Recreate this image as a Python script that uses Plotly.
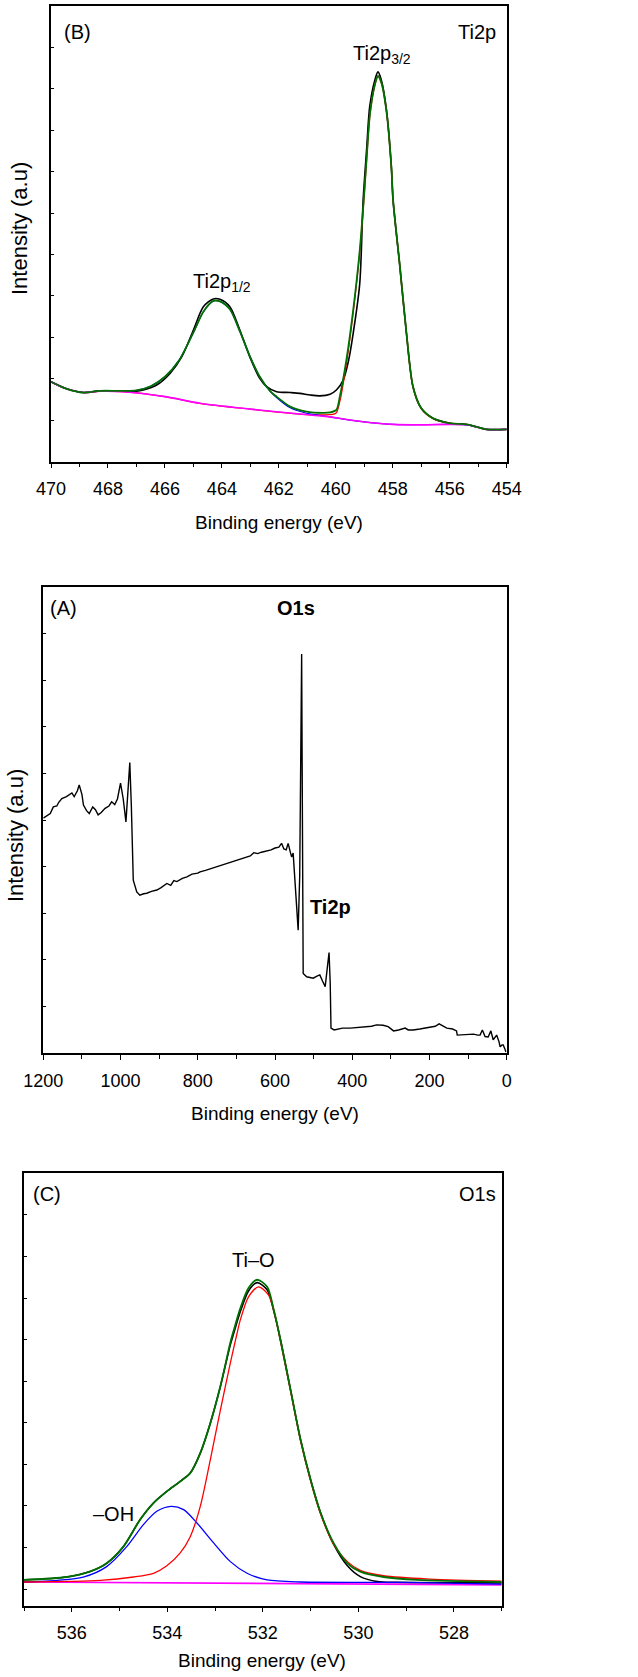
import plotly.graph_objects as go

W, H = 638, 1677

# ---------------- Panel B: Ti2p high-resolution ----------------
b_data_x = [470.0, 469.45, 468.87, 468.28, 467.58, 467.0, 466.76, 466.29, 465.82, 465.41, 465.0,
            464.65, 464.3, 464.07, 463.72, 463.37, 463.02, 462.67, 462.43, 462.08, 461.6, 461.26,
            460.9, 460.56, 460.2, 459.98, 459.74, 459.55, 459.39, 459.16, 459.04, 458.92, 458.81,
            458.63, 458.52, 458.4, 458.22, 458.05, 457.99, 457.75, 457.52, 457.29, 457.0, 456.59,
            456.0, 455.41, 455.06, 454.71, 454.0]
b_data_y = [1.93, 1.76, 1.67, 1.71, 1.71, 1.70, 1.73, 1.85, 2.13, 2.53, 3.18,
            3.74, 3.93, 3.92, 3.74, 3.18, 2.53, 2.01, 1.81, 1.69, 1.67, 1.65,
            1.61, 1.59, 1.63, 1.73, 1.97, 2.45, 3.10, 4.30, 6.32, 7.52, 8.57,
            9.21, 9.41, 9.21, 8.49, 7.12, 6.32, 4.71, 3.10, 1.81, 1.29, 1.05,
            0.93, 0.90, 0.84, 0.78, 0.78]

b_fit_x = [470.0, 469.45, 468.87, 468.28, 467.58, 467.0, 466.5, 466.0, 465.5, 465.0, 464.65,
           464.3, 464.07, 463.72, 463.37, 463.02, 462.67, 462.3, 462.08, 461.6, 461.03, 460.45,
           460.2, 459.98, 459.86, 459.63, 459.39, 459.16, 459.0, 458.9, 458.8, 458.63, 458.52,
           458.4, 458.22, 458.05, 457.99, 457.75, 457.52, 457.29, 457.0, 456.59, 456.0, 455.41,
           455.06, 454.71, 454.0]
b_fit_y = [1.93, 1.76, 1.67, 1.71, 1.71, 1.72, 1.82, 2.05, 2.45, 3.12, 3.62,
           3.88, 3.87, 3.68, 3.15, 2.55, 2.05, 1.70, 1.57, 1.33, 1.21, 1.18,
           1.19, 1.25, 1.57, 2.45, 3.66, 5.10, 6.50, 7.50, 8.40, 9.10, 9.31,
           9.15, 8.45, 7.12, 6.32, 4.71, 3.10, 1.81, 1.29, 1.05, 0.93, 0.90,
           0.84, 0.78, 0.78]

b_p32_x = [470.0, 469.45, 468.87, 468.28, 467.5, 466.0, 464.77, 463.0, 461.26, 460.45, 460.0,
           459.86, 459.63, 459.39, 459.16, 459.0, 458.9, 458.8, 458.63, 458.52, 458.4, 458.22,
           458.05, 457.99, 457.75, 457.52, 457.29, 457.0, 456.59, 456.0, 455.41, 455.06, 454.71, 454.0]
b_p32_y = [1.93, 1.76, 1.67, 1.70, 1.69, 1.57, 1.41, 1.27, 1.15, 1.13, 1.17,
           1.45, 2.35, 3.60, 5.05, 6.45, 7.48, 8.38, 9.08, 9.30, 9.14, 8.44,
           7.11, 6.31, 4.70, 3.09, 1.80, 1.28, 1.04, 0.93, 0.90, 0.84, 0.78, 0.78]

b_p12_x = [470.0, 469.45, 468.87, 468.28, 467.58, 467.0, 466.5, 466.0, 465.5, 465.0, 464.65,
           464.3, 464.07, 463.72, 463.37, 463.02, 462.67, 462.3, 462.08, 461.6, 461.03, 460.45,
           460.0, 459.0, 458.0, 456.0, 455.41, 455.06, 454.71, 454.0]
b_p12_y = [1.93, 1.76, 1.67, 1.71, 1.71, 1.72, 1.82, 2.05, 2.45, 3.12, 3.62,
           3.88, 3.87, 3.68, 3.15, 2.55, 2.05, 1.70, 1.55, 1.30, 1.17, 1.11,
           1.06, 0.96, 0.90, 0.90, 0.89, 0.84, 0.78, 0.78]

b_base_x = [470.0, 469.45, 468.87, 468.28, 467.5, 466.0, 464.77, 463.0, 461.26, 460.45, 460.0,
            459.0, 458.0, 457.0, 456.0, 455.41, 455.06, 454.71, 454.0]
b_base_y = [1.93, 1.76, 1.67, 1.70, 1.69, 1.57, 1.41, 1.27, 1.15, 1.10, 1.06,
            0.96, 0.90, 0.89, 0.90, 0.89, 0.84, 0.78, 0.78]

# ---------------- Panel A: survey spectrum ----------------
a_x = [1200, 1190, 1182, 1174, 1165, 1160, 1152, 1140, 1130, 1126, 1120, 1112, 1107, 1100, 1096,
       1088, 1081, 1072, 1065, 1058, 1050, 1040, 1030, 1023, 1015, 1008, 1000, 993, 986, 981, 976,
       972, 967, 958, 950, 940, 932, 920, 906, 895, 880, 870, 862, 854, 840, 828, 815, 800, 794,
       780, 765, 751, 740, 730, 720, 708, 695, 680, 664, 655, 645, 635, 621, 610, 600, 590, 583,
       577, 571, 566, 560, 557, 553, 547, 540, 536, 533, 531, 529, 527, 518, 510, 501, 490, 484,
       477, 470, 465, 460, 457, 455, 447, 440, 425, 405, 385, 362, 350, 337, 320, 307, 298, 293,
       280, 263, 255, 242, 225, 210, 199, 185, 175, 165, 155, 140, 130, 128, 110, 95, 86, 75, 69,
       63, 56, 48, 41, 35, 30, 26, 20, 17, 12, 9, 5, 2]
a_y = [5.04, 5.10, 5.14, 5.28, 5.30, 5.38, 5.46, 5.50, 5.56, 5.58, 5.50, 5.62, 5.75, 5.55, 5.32,
       5.20, 5.14, 5.28, 5.22, 5.11, 5.16, 5.25, 5.30, 5.39, 5.33, 5.45, 5.79, 5.45, 4.96, 5.60, 6.23,
       5.30, 3.71, 3.46, 3.39, 3.42, 3.43, 3.47, 3.50, 3.55, 3.64, 3.60, 3.70, 3.68, 3.75, 3.78, 3.84,
       3.86, 3.89, 3.92, 3.96, 4.00, 4.03, 4.05, 4.09, 4.11, 4.14, 4.18, 4.23, 4.30, 4.28, 4.31, 4.34,
       4.36, 4.40, 4.42, 4.50, 4.38, 4.36, 4.50, 4.30, 4.21, 4.29, 3.60, 2.64, 3.80, 7.00, 8.56, 5.00,
       1.71, 1.64, 1.62, 1.61, 1.66, 1.68, 1.55, 1.43, 1.80, 2.16, 1.50, 0.54, 0.50, 0.51, 0.54, 0.54,
       0.55, 0.56, 0.58, 0.61, 0.60, 0.57, 0.52, 0.48, 0.50, 0.54, 0.50, 0.50, 0.52, 0.54, 0.57, 0.58,
       0.63, 0.58, 0.54, 0.52, 0.48, 0.39, 0.40, 0.41, 0.41, 0.39, 0.39, 0.50, 0.36, 0.35, 0.48, 0.29,
       0.35, 0.39, 0.25, 0.14, 0.18, 0.18, 0.10, 0.03]

# ---------------- Panel C: O1s high-resolution ----------------
c_data_x = [537.0, 536.1, 535.62, 535.27, 534.92, 534.57, 534.29, 534.01, 533.73, 533.52, 533.31,
            533.1, 532.89, 532.68, 532.61, 532.47, 532.3, 532.12, 531.91, 531.77, 531.63, 531.42,
            531.21, 531.0, 530.79, 530.52, 530.23, 529.96, 529.6, 529.2, 528.0, 527.0]
c_data_y = [0.22, 0.29, 0.42, 0.62, 1.02, 1.67, 2.07, 2.35, 2.59, 2.79, 3.27,
            3.99, 4.87, 5.88, 6.15, 6.68, 7.17, 7.37, 7.20, 6.68, 5.99, 4.79,
            3.59, 2.63, 1.83, 1.08, 0.56, 0.30, 0.18, 0.16, 0.15, 0.15]

c_fit_x = [537.0, 536.1, 535.62, 535.27, 534.92, 534.57, 534.29, 534.01, 533.73, 533.52, 533.31,
           533.1, 532.89, 532.68, 532.61, 532.47, 532.3, 532.12, 531.91, 531.77, 531.63, 531.42,
           531.21, 531.0, 530.79, 530.52, 530.23, 529.96, 529.47, 528.77, 527.0]
c_fit_y = [0.22, 0.29, 0.42, 0.62, 1.02, 1.67, 2.07, 2.35, 2.59, 2.79, 3.27,
           3.99, 4.87, 5.93, 6.22, 6.76, 7.24, 7.44, 7.27, 6.71, 5.99, 4.79,
           3.59, 2.63, 1.83, 1.11, 0.62, 0.42, 0.29, 0.22, 0.17]

c_tio_x = [537.0, 535.4, 534.71, 534.29, 534.01, 533.73, 533.52, 533.31, 533.1, 532.89, 532.68,
           532.54, 532.47, 532.3, 532.09, 531.88, 531.74, 531.63, 531.42, 531.21, 531.0, 530.79,
           530.52, 530.23, 529.96, 529.47, 528.5, 527.0]
c_tio_y = [0.17, 0.21, 0.29, 0.38, 0.56, 0.87, 1.26, 1.99, 3.11, 4.30, 5.44,
           6.15, 6.48, 7.03, 7.27, 7.07, 6.55, 5.95, 4.76, 3.56, 2.60, 1.80,
           1.08, 0.66, 0.45, 0.32, 0.24, 0.19]

c_oh_x = [537.0, 535.76, 535.27, 534.85, 534.5, 534.22, 533.92, 533.66, 533.38, 533.03, 532.68,
          532.33, 531.91, 531.2, 529.0, 527.0]
c_oh_y = [0.17, 0.29, 0.54, 1.02, 1.55, 1.87, 1.99, 1.91, 1.59, 1.11, 0.66,
          0.38, 0.22, 0.17, 0.16, 0.12]

c_base_x = [537.0, 532.0, 527.0]
c_base_y = [0.17, 0.14, 0.10]

BLACK, GREEN, RED, BLUE, MAG = "#000000", "#007000", "#ff0000", "#0000ff", "#ff00ff"

fig = go.Figure()


def add(x, y, color, width, ax, shape="spline"):
    fig.add_trace(go.Scatter(x=x, y=y, mode="lines", xaxis="x" + ax, yaxis="y" + ax,
                             line=dict(color=color, width=width, shape=shape,
                                       smoothing=0.8 if shape == "spline" else None),
                             showlegend=False, hoverinfo="skip"))


# panel B -> axes 1
add(b_data_x, b_data_y, BLACK, 1.6, "")
add(b_p32_x, b_p32_y, RED, 1.2, "")
add(b_p12_x, b_p12_y, BLUE, 1.2, "")
add(b_base_x, b_base_y, MAG, 1.6, "")
add(b_fit_x, b_fit_y, GREEN, 1.8, "")
# panel A -> axes 2
add(a_x, a_y, BLACK, 1.4, "2", shape="linear")
# panel C -> axes 3
add(c_data_x, c_data_y, BLACK, 1.6, "3")
add(c_base_x, c_base_y, MAG, 1.6, "3", shape="linear")
add(c_oh_x, c_oh_y, BLUE, 1.3, "3")
add(c_tio_x, c_tio_y, RED, 1.3, "3")
add(c_fit_x, c_fit_y, GREEN, 1.8, "3")


def px(v):
    return v / W


def py(v):
    return 1 - v / H


TICKFONT = dict(family="Liberation Sans Narrow, Arial Narrow, Liberation Sans, Arial", size=18, color="black")


def xaxis(dom, rng, dtick, mdtick, anchor):
    return dict(domain=[px(dom[0]), px(dom[1])], range=rng, anchor=anchor, automargin=False,
                showline=True, linecolor="black", linewidth=1.5, mirror=True,
                ticks="outside", ticklen=5, tickwidth=1.3, tickcolor="black", dtick=dtick,
                tick0=0, tickfont=TICKFONT, ticklabelstandoff=5,
                minor=dict(dtick=mdtick, ticks="outside", ticklen=4, tickwidth=1.3, tickcolor="black"),
                showgrid=False, zeroline=False, fixedrange=True)


def yaxis(dom, rng, anchor):
    return dict(domain=[py(dom[1]), py(dom[0])], range=rng, anchor=anchor, automargin=False,
                showline=True, linecolor="black", linewidth=1.5, mirror=True,
                ticks="inside", ticklen=3, tickwidth=1, tickcolor="black", dtick=1, tick0=0,
                showticklabels=False, showgrid=False, zeroline=False, fixedrange=True)


fig.update_layout(
    width=W, height=H, margin=dict(l=0, r=0, t=0, b=0, pad=0, autoexpand=False),
    paper_bgcolor="white", plot_bgcolor="white",
    font=dict(family="Liberation Sans, Arial", color="black"),
    xaxis=xaxis((51, 506.7), [470, 454], 2, 1, "y"),
    yaxis=yaxis((6, 461.7), [0, 11], "x"),
    xaxis2=xaxis((43.3, 506.7), [1200, 0], 200, 100, "y2"),
    yaxis2=yaxis((586.7, 1053.3), [0, 10], "x2"),
    xaxis3=xaxis((24, 501.7), [537, 527], 2, 1, "y3"),
    yaxis3=yaxis((1173.3, 1605.7), [-0.4, 10], "x3"),
)


def ann(text, x, y, size=20, angle=0, xanchor="center"):
    fig.add_annotation(text=text, x=px(x), y=py(y), xref="paper", yref="paper",
                       xanchor=xanchor, yanchor="middle", showarrow=False, textangle=angle,
                       font=dict(family="Liberation Sans, Arial", size=size, color="black"))


# Panel B labels
ann("(B)", 77, 32)
ann("Ti2p", 477, 32)
ann("Ti2p<sub>3/2</sub>", 382, 55)
ann("Ti2p<sub>1/2</sub>", 222, 282)
ann("Binding energy (eV)", 279, 522, size=19)
ann("Intensity (a.u)", 20, 229, size=22, angle=-90)
# Panel A labels
ann("(A)", 63, 608)
ann("<b>O1s</b>", 296, 608)
ann("<b>Ti2p</b>", 330, 907)
ann("Binding energy (eV)", 275, 1113, size=19)
ann("Intensity (a.u)", 15, 836, size=22, angle=-90)
# Panel C labels
ann("(C)", 47, 1194)
ann("O1s", 477, 1194)
ann("Ti\u2013O", 253, 1260)
ann("\u2013OH", 113, 1514)
ann("Binding energy (eV)", 262, 1660, size=19)

fig.write_html("out.html", config={"displayModeBar": False},
               post_script="document.body.style.margin='0';document.body.style.overflow='hidden';")
